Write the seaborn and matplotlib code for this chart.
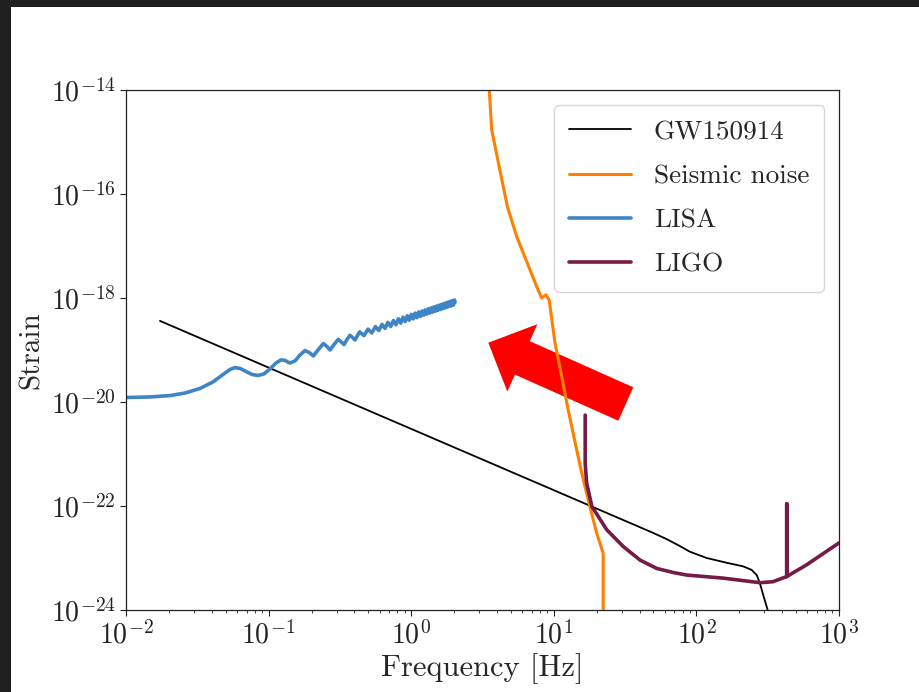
import numpy as np
import matplotlib
matplotlib.use("Agg")
import matplotlib.pyplot as plt
from matplotlib.patches import Rectangle, FancyArrow
from matplotlib.ticker import NullLocator
import seaborn as sns

# ---------------- data ----------------
# GW150914 characteristic strain (Hz, strain)
gw_freq = [0.0173, 50.0, 62.0, 75.0, 90.0, 118.0, 163.0, 213.0, 244.0, 265.0, 279.0,
           294.0, 316.0, 340.0]
gw_strain = [3.63e-19, 3.02e-23, 2.3e-23, 1.75e-23, 1.32e-23, 1.0e-23, 8.1e-24, 6.9e-24,
             5.9e-24, 4.7e-24, 3.24e-24, 1.95e-24, 1.0e-24, 4.0e-25]

# Seismic noise wall
seis_freq = [3.49, 3.67, 4.72, 5.50, 7.78, 8.22, 8.81, 9.29, 10.2, 11.0, 12.4,
             13.8, 15.7, 17.9, 20.0, 22.2, 22.2]
seis_strain = [1.6e-14, 1.7e-15, 5.8e-17, 1.5e-17, 1.4e-18, 1.0e-18, 1.15e-18,
               9.1e-19, 1.35e-19, 4.8e-20, 8.9e-21, 2.2e-21, 4.3e-22, 9.8e-23,
               3.0e-23, 1.23e-23, 3.0e-25]

# LISA sensitivity (Hz, strain in units of 1e-20)
lisa_freq = [0.0100, 0.0147, 0.0204, 0.0260, 0.0330, 0.0407, 0.0479, 0.0536, 0.0581,
             0.0631, 0.0695, 0.0766, 0.0844, 0.0929, 0.102, 0.1127, 0.1222, 0.130,
             0.141, 0.153, 0.166, 0.180, 0.193, 0.206, 0.224, 0.242, 0.256, 0.270,
             0.289, 0.308, 0.323, 0.338, 0.355, 0.372, 0.3875, 0.403,
             0.435, 0.4665, 0.498, 0.5295, 0.561, 0.5925, 0.624, 0.6555, 0.687, 0.7185,
             0.750, 0.7815, 0.813, 0.8445, 0.876, 0.9075, 0.939, 0.9705, 1.002, 1.0335,
             1.065, 1.0965, 1.128, 1.1595, 1.191, 1.2225, 1.254, 1.2855, 1.317, 1.3485,
             1.380, 1.4115, 1.443, 1.4745, 1.506, 1.5375, 1.569, 1.6005, 1.632, 1.6635,
             1.695, 1.7265, 1.758, 1.7895, 1.821, 1.8525, 1.884, 1.9155, 1.947, 1.9785,
             2.010, 2.030]
lisa_strain_e20 = [1.22, 1.25, 1.33, 1.49, 1.82, 2.43, 3.38, 4.22, 4.60,
                   4.41, 3.86, 3.38, 3.24, 3.47, 4.31, 5.62, 6.45, 6.31,
                   5.62, 6.16, 8.00, 9.77, 8.90, 7.70, 10.3, 13.3, 11.7, 10.0,
                   13.0, 16.0, 14.3, 12.7, 16.0, 19.2, 17.4, 15.6,
                   22.3, 18.9, 25.2, 21.3, 28.2, 23.7, 31.1, 26.0, 34.0, 28.3,
                   36.9, 30.6, 39.8, 32.9, 42.7, 35.2, 45.5, 37.4, 48.4, 39.7,
                   51.2, 41.9, 54.0, 44.2, 56.3, 46.8, 59.1, 49.0, 61.8, 51.3,
                   64.5, 53.5, 67.3, 55.7, 70.0, 57.9, 72.7, 60.1, 75.4, 62.3,
                   78.2, 64.5, 80.9, 66.7, 83.5, 68.9, 86.2, 71.1, 88.9, 73.2,
                   91.6, 83.0]

# LIGO sensitivity
ligo_freq = [16.6, 16.6, 17.0, 18.5, 23.5, 30.7, 40.3, 52.7, 68.9, 85.5, 154.0,
             279.0, 344.0, 430.0, 430.0, 430.0, 593.0, 1000.0]
ligo_strain = [5.6e-21, 6.6e-22, 2.75e-22, 9.8e-23, 3.5e-23, 1.66e-23, 9.1e-24,
               6.3e-24, 5.25e-24, 4.7e-24, 4.1e-24, 3.35e-24, 3.5e-24, 4.4e-24,
               1.1e-22, 4.4e-24, 7.4e-24, 1.95e-23]

# ---------------- style ----------------
sns.set_style("ticks")
plt.rcParams.update({
    "font.family": "serif",
    "font.serif": ["cmr10"],
    "mathtext.fontset": "cm",
    "axes.formatter.use_mathtext": True,
    "axes.edgecolor": "#222222",
    "axes.linewidth": 0.9,
    "xtick.color": "#222222",
    "ytick.color": "#222222",
    "lines.solid_joinstyle": "round",
})

W, H = 920, 692
fig = plt.figure(figsize=(W / 100, H / 100), dpi=100)
fig.patch.set_facecolor("white")
ax = fig.add_axes([126 / W, (H - 610) / H, 713 / W, 520 / H])

sns.lineplot(x=gw_freq, y=gw_strain, ax=ax, color="black", lw=1.3,
             sort=False, estimator=None, label="GW150914")
sns.lineplot(x=seis_freq, y=seis_strain, ax=ax, color="#ff7f00", lw=2.2,
             sort=False, estimator=None, label="Seismic noise")
sns.lineplot(x=lisa_freq, y=np.array(lisa_strain_e20) * 1e-20, ax=ax, color="#3d85c6",
             lw=2.6, sort=False, estimator=None, label="LISA")
sns.lineplot(x=ligo_freq, y=ligo_strain, ax=ax, color="#741b47", lw=2.6,
             sort=False, estimator=None, label="LIGO")

ax.set_xscale("log")
ax.set_yscale("log")
ax.set_xlim(1e-2, 1e3)
ax.set_ylim(1e-24, 1e-14)
ax.set_yticks([1e-24, 1e-22, 1e-20, 1e-18, 1e-16, 1e-14])
ax.yaxis.set_minor_locator(NullLocator())
ax.tick_params(axis="both", which="major", labelsize=20, length=4, width=0.8,
               direction="out")
ax.tick_params(axis="x", which="minor", length=2.5, width=0.6, direction="out")

ax.set_xlabel("Frequency [Hz]", fontsize=22, labelpad=3)
ax.set_ylabel("Strain", fontsize=21, labelpad=4)

leg = ax.legend(loc="upper right", fontsize=19.6, frameon=True, fancybox=True,
                handlelength=2.25, borderaxespad=0.55, labelspacing=0.74,
                borderpad=0.55, handletextpad=0.85)
leg.get_frame().set_edgecolor("#cccccc")
leg.get_frame().set_linewidth(1.0)

# Red arrow pointing from the ground-based band toward the space-based band
arrow = FancyArrow(6.258, (H - 404) / 100, -1.375, 0.613,
                   width=0.366, head_width=0.738, head_length=0.373,
                   length_includes_head=True, color="#ff0000", lw=0,
                   transform=fig.dpi_scale_trans, zorder=1.5)
ax.add_artist(arrow)

# Dark window frame on top and left edges
fig.add_artist(Rectangle((0, (H - 7) / H), 1, 7 / H, transform=fig.transFigure,
                         color="#202020", lw=0, zorder=10))
fig.add_artist(Rectangle((0, 0), 11 / W, 1, transform=fig.transFigure,
                         color="#202020", lw=0, zorder=10))

fig.savefig("out.png", dpi=100)
